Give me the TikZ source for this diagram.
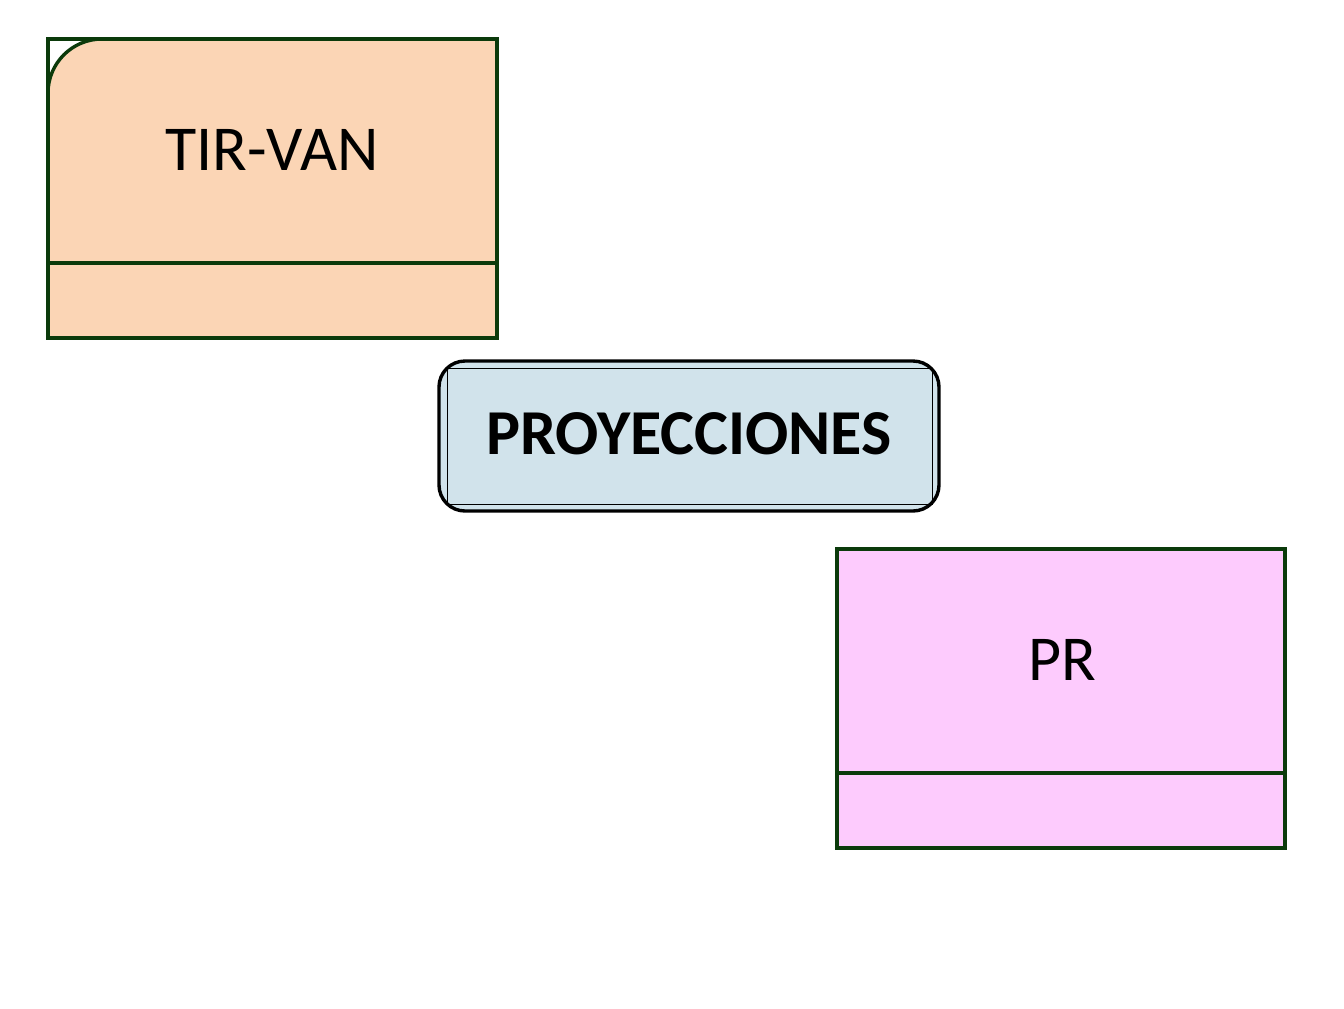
\documentclass[tikz,border=0pt]{standalone}
\usepackage{fontspec}
\setmainfont{Carlito}
\definecolor{boxline}{HTML}{0B3A0B}
\definecolor{tirfill}{HTML}{FBD5B5}
\definecolor{profill}{HTML}{D1E3EB}
\definecolor{prfill}{HTML}{FDCBFD}
\tikzset{
  frame/.style={draw=boxline, line width=1.7pt},
  label/.style={inner sep=0pt, font=\fontsize{32}{38}\selectfont}
}
\begin{document}
\begin{tikzpicture}[x=0.5pt, y=-0.5pt]
\useasboundingbox (0,0) rectangle (1344,1008);
% TIR-VAN
\fill [tirfill] (48,338) [rounded corners=27pt] -- (48,39) [sharp corners] -- (497,39) -- (497,338) -- cycle;
\draw [frame] (48,338) [rounded corners=27pt] -- (48,39) [sharp corners] -- (497,39);
\draw [frame] (48,39) rectangle (497,338);
\draw [frame] (48,263) -- (497,263);
\node (tirvan) [label] at (272,150) {TIR-VAN};
% PROYECCIONES
\draw [fill=profill, line width=1.7pt, rounded corners=13pt] (439,361) rectangle (939,511);
\draw [line width=0.5pt] (447,368) rectangle (932,504);
\node (proyecciones) [label, font=\fontsize{32}{38}\selectfont\bfseries] at (689,434) {PROYECCIONES};
% PR
\draw [frame, fill=prfill] (837,549) rectangle (1285,848);
\draw [frame] (837,773) -- (1285,773);
\node (pr) [label] at (1062,660) {PR};
\end{tikzpicture}
\end{document}
